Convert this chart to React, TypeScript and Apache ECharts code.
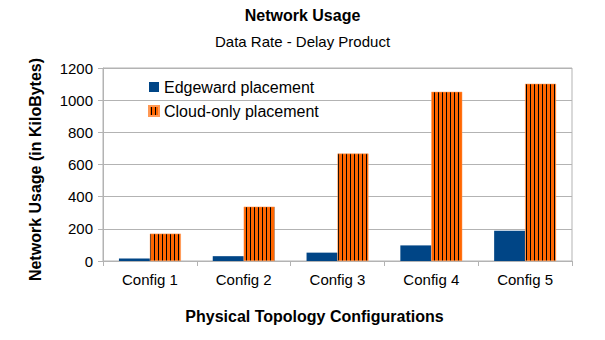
import React, { useEffect, useRef } from "react";
import * as echarts from "echarts";

const categories = ["Config 1", "Config 2", "Config 3", "Config 4", "Config 5"];
const edgeward = [15, 30, 52, 97, 188];
const cloudOnly = [170, 338, 668, 1052, 1102];
const seriesNames = ["Edgeward placement", "Cloud-only placement"];

function makeStripes(): HTMLCanvasElement {
  const c = document.createElement("canvas");
  c.width = 4;
  c.height = 4;
  const ctx = c.getContext("2d")!;
  ctx.fillStyle = "#ff6600";
  ctx.fillRect(0, 0, 4, 4);
  ctx.fillStyle = "#000000";
  ctx.fillRect(2, 0, 1, 4);
  return c;
}

export default function App() {
  const ref = useRef<HTMLDivElement>(null);
  useEffect(() => {
    const chart = echarts.init(ref.current!, null, { renderer: "svg" });
    const font = "Liberation Sans, Arial, sans-serif";
    const stripes = makeStripes();
    chart.setOption({
      animation: false,
      backgroundColor: "#fff",
      title: {
        text: "Network Usage",
        subtext: "Data Rate - Delay Product",
        left: "center",
        top: 7,
        itemGap: 11,
        padding: 0,
        textStyle: { fontFamily: font, fontSize: 16, fontWeight: "bold", color: "#000" },
        subtextStyle: { fontFamily: font, fontSize: 15, color: "#000" },
      },
      legend: {
        orient: "vertical",
        left: 148,
        top: 79,
        padding: 0,
        icon: "rect",
        itemWidth: 10,
        itemHeight: 10,
        itemGap: 8,
        textStyle: { fontFamily: font, fontSize: 16, color: "#000" },
        data: seriesNames,
      },
      grid: {
        left: 103,
        right: 33,
        top: 68,
        bottom: 79,
        show: true,
        borderColor: "#b3b3b3",
        borderWidth: 1,
      },
      xAxis: {
        type: "category",
        data: categories,
        name: "Physical Topology Configurations",
        nameLocation: "middle",
        nameGap: 47,
        nameTextStyle: {
          fontFamily: font,
          fontSize: 16,
          fontWeight: "bold",
          color: "#000",
          padding: [0, 46, 0, 0],
        },
        axisLine: { lineStyle: { color: "#b3b3b3" } },
        axisTick: { show: true, length: 5, lineStyle: { color: "#b3b3b3" } },
        axisLabel: { fontFamily: font, fontSize: 15, color: "#000", margin: 11 },
      },
      yAxis: {
        type: "value",
        min: 0,
        max: 1200,
        interval: 200,
        name: "Network Usage (in KiloBytes)",
        nameLocation: "middle",
        nameGap: 60,
        nameTextStyle: {
          fontFamily: font,
          fontSize: 16,
          fontWeight: "bold",
          color: "#000",
          padding: [0, 10, 0, 0],
        },
        axisLine: { show: true, lineStyle: { color: "#b3b3b3" } },
        axisTick: { show: true, length: 5, lineStyle: { color: "#b3b3b3" } },
        axisLabel: { fontFamily: font, fontSize: 15, color: "#000", margin: 10, formatter: (v: number) => String(v) },
        splitLine: { lineStyle: { color: "#b3b3b3" } },
      },
      series: [
        {
          name: seriesNames[0],
          type: "bar",
          data: edgeward,
          barGap: "0%",
          barCategoryGap: "34%",
          itemStyle: { color: "#004586" },
        },
        {
          name: seriesNames[1],
          type: "bar",
          data: cloudOnly,
          barGap: "0%",
          barCategoryGap: "34%",
          itemStyle: {
            color: { image: stripes, repeat: "repeat" },
            borderColor: "#ff9955",
            borderWidth: 0.5,
          },
        },
      ],
    });
    return () => chart.dispose();
  }, []);
  return <div ref={ref} style={{ width: 605, height: 340, position: "absolute", left: 0, top: 0 }} />;
}
